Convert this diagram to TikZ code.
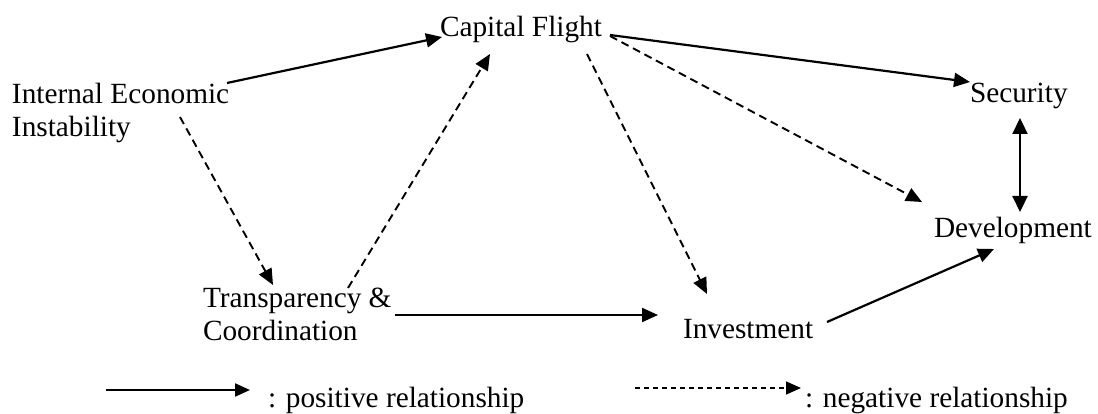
\documentclass[tikz,border=0pt]{standalone}
\usepackage{fontspec}
\setmainfont{Liberation Serif}
\usetikzlibrary{arrows.meta}
\tikzset{
  lbl/.style={inner sep=0pt, outer sep=0pt, anchor=base west, align=left,
    font=\fontsize{29.3}{33}\selectfont},
  posline/.style={line width=2.2pt, -{Triangle[length=16pt,width=14pt]}},
  negline/.style={line width=1.9pt, dash pattern=on 8pt off 5pt, -{Triangle[length=16pt,width=14pt]}},
  bothline/.style={line width=2.2pt, {Triangle[length=16pt,width=15pt]}-{Triangle[length=16pt,width=15pt]}},
  legposline/.style={line width=2.2pt, -{Triangle[length=15pt,width=13pt]}},
  legnegline/.style={line width=1.6pt, dash pattern=on 5pt off 4pt, -{Triangle[length=15pt,width=13pt]}}
}
\begin{document}
\begin{tikzpicture}[x=1pt,y=-1pt]
\useasboundingbox (0,0) rectangle (1098,414);
\node[lbl] (cf)  at (440,36.5) {Capital Flight};
\node[lbl] (iei) at (12,136.5) {Internal Economic\\Instability};
\node[lbl] (sec) at (970,103) {Security};
\node[lbl] (dev) at (934,238) {Development};
\node[lbl] (tc)  at (203,340) {Transparency \&\\Coordination};
\node[lbl] (inv) at (683,338) {Investment};
\node[lbl] (lp)  at (268,407) {: positive relationship};
\node[lbl] (ln)  at (805,407) {: negative relationship};

\draw[posline] ([shift={(215,-53.5)}]iei.base west) -- ([shift={(2,0.5)}]cf.base west);
\draw[negline] ([shift={(168,-19.5)}]iei.base west) -- ([shift={(70,-55)}]tc.base west);
\draw[negline] ([shift={(145,-52)}]tc.base west) -- ([shift={(50,17.5)}]cf.base west);
\draw[posline] ([shift={(192,-25)}]tc.base west) -- ([shift={(-25,-23)}]inv.base west);
\draw[posline] ([shift={(170,-1.5)}]cf.base west) -- ([shift={(0,-21)}]sec.base west);
\draw[negline] ([shift={(170,-0.5)}]cf.base west) -- ([shift={(-12,-36)}]dev.base west);
\draw[negline] ([shift={(147,17.5)}]cf.base west) -- ([shift={(24,-44)}]inv.base west);
\draw[posline] ([shift={(144,-16)}]inv.base west) -- ([shift={(60,11)}]dev.base west);
\draw[bothline] ([shift={(50,15)}]sec.base west) -- ([shift={(86,-26)}]dev.base west);

\draw[legposline] ([shift={(-162,-17)}]lp.base west) -- ([shift={(-18,-17)}]lp.base west);
\draw[legnegline] ([shift={(-170,-19)}]ln.base west) -- ([shift={(-4,-19)}]ln.base west);
\end{tikzpicture}
\end{document}
